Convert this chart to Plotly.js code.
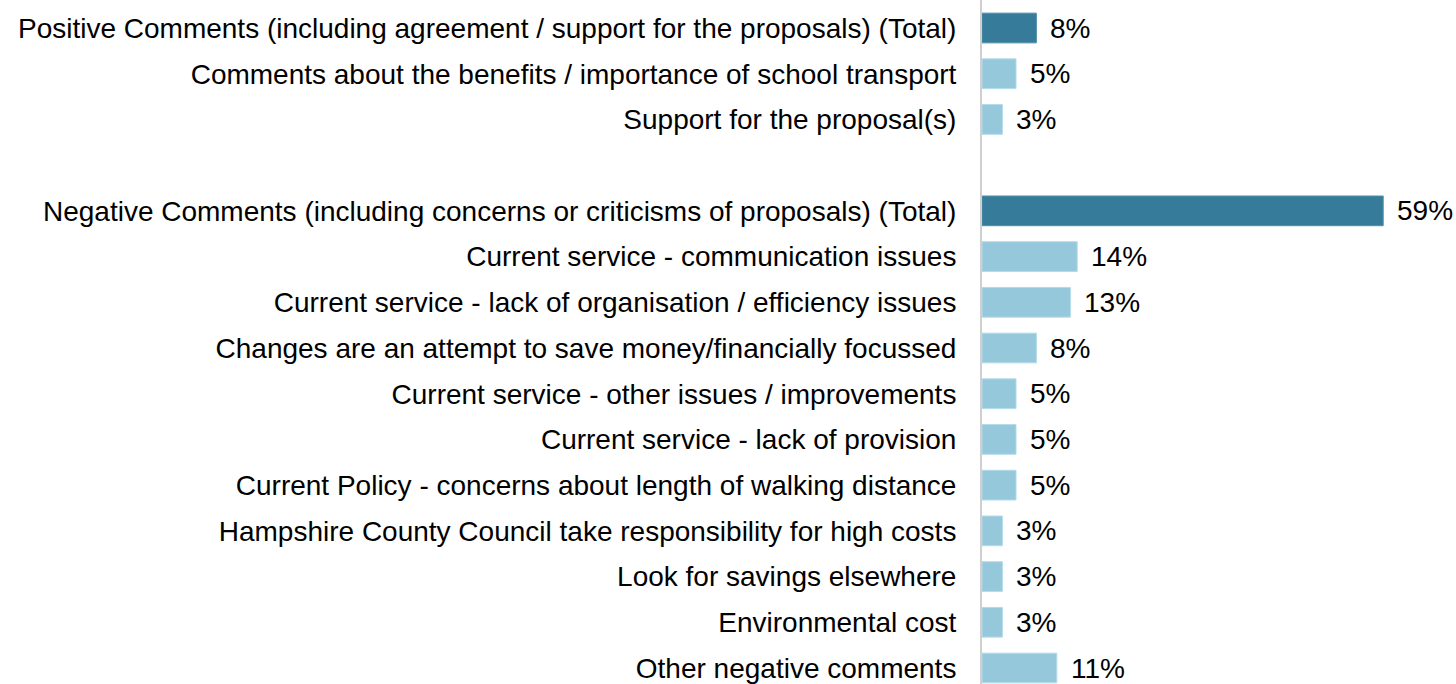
<!DOCTYPE html>
<html>
<head>
<meta charset="utf-8">
<script src="https://cdn.plot.ly/plotly-3.0.1.min.js"></script>
<style>html,body{margin:0;padding:0;background:#fff;}#chart{width:1456px;height:684px;}</style>
</head>
<body>
<div id="chart"></div>
<script>
const categories = [
  "Positive Comments (including agreement / support for the proposals) (Total)",
  "Comments about the benefits / importance of school transport",
  "Support for the proposal(s)",
  "",
  "Negative Comments (including concerns or criticisms of proposals) (Total)",
  "Current service - communication issues",
  "Current service - lack of organisation / efficiency issues",
  "Changes are an attempt to save money/financially focussed",
  "Current service - other issues / improvements",
  "Current service - lack of provision",
  "Current Policy - concerns about length of walking distance",
  "Hampshire County Council take responsibility for high costs",
  "Look for savings elsewhere",
  "Environmental cost",
  "Other negative comments"
];
const values = [8, 5, 3, null, 59, 14, 13, 8, 5, 5, 5, 3, 3, 3, 11];
const isTotal = [true, false, false, false, true, false, false, false, false, false, false, false, false, false, false];

const DARK = "#367b99", LIGHT = "#96c8dc";
const FONT = "Liberation Sans, Arial, sans-serif";
const idx = categories.map((c, i) => i);
const barIdx = idx.filter(i => values[i] !== null);

const trace = {
  type: "bar",
  orientation: "h",
  y: barIdx,
  x: barIdx.map(i => values[i]),
  width: 0.65,
  marker: {
    color: barIdx.map(i => isTotal[i] ? DARK : LIGHT),
    line: {color: barIdx.map(i => isTotal[i] ? "#4f8fab" : "#b3dbe9"), width: 1}
  },
  hoverinfo: "skip"
};

const annotations = barIdx.map(i => ({
  x: values[i], y: i, xref: "x", yref: "y",
  text: values[i] + "%", showarrow: false,
  xanchor: "left", yanchor: "middle", xshift: 12,
  font: {family: FONT, size: 28, color: "#000"}
}));

const layout = {
  width: 1456, height: 684,
  margin: {l: 982, r: 32, t: 0, b: 0, pad: 0},
  paper_bgcolor: "#fff", plot_bgcolor: "#fff",
  showlegend: false,
  font: {family: FONT, size: 28, color: "#000"},
  xaxis: {range: [0, 65], visible: false, fixedrange: true},
  yaxis: {
    range: [14.35, -0.6125],
    tickmode: "array", tickvals: idx, ticktext: categories,
    showline: true, linecolor: "#cfcfcf", linewidth: 2,
    showgrid: false, zeroline: false,
    ticks: "outside", ticklen: 18, tickcolor: "rgba(0,0,0,0)",
    tickfont: {family: FONT, size: 28, color: "#000"},
    automargin: false
  },
  annotations: annotations,
  bargap: 0.35
};

Plotly.newPlot("chart", [trace], layout, {displayModeBar: false, staticPlot: true});
</script>
</body>
</html>
